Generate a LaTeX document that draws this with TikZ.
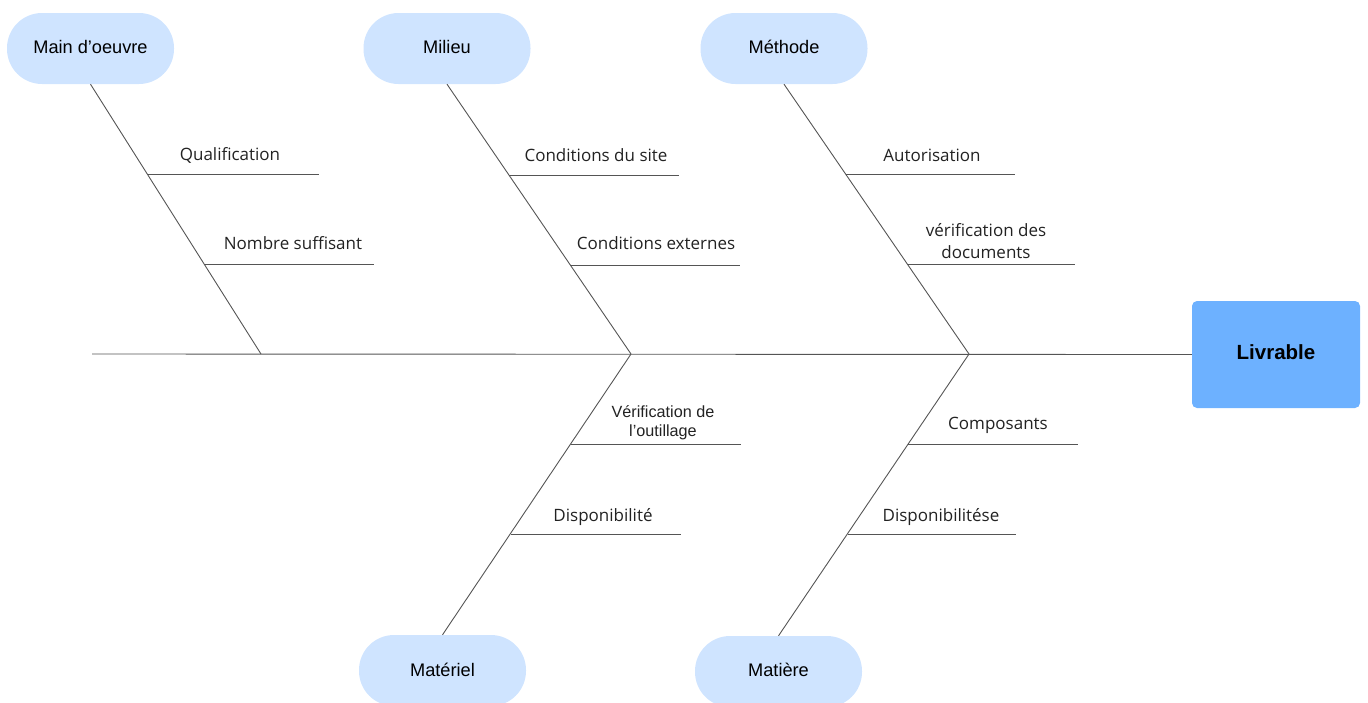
\documentclass[tikz,border=0pt]{standalone}
\usepackage{fontspec}
\setmainfont{Liberation Sans}
\newfontfamily\labfont{Open Sans}
\definecolor{pillc}{HTML}{CFE4FF}
\definecolor{boxc}{HTML}{6DB1FF}
\definecolor{linec}{HTML}{555555}
\definecolor{txtc}{HTML}{222222}
\begin{document}
\begin{tikzpicture}[x=1pt,y=-1pt,
  pill/.style={draw=none,fill=pillc,rounded corners=35pt,minimum width=167pt,minimum height=71pt,inner sep=0pt,font=\fontsize{18.2}{21}\selectfont,text=black},
  bone/.style={draw=linec,line width=0.9pt},
  lab/.style={font=\labfont\fontsize{17}{22}\selectfont,text=txtc,align=center,inner sep=0pt},
  labs/.style={font=\fontsize{16.2}{19}\selectfont,text=txtc,align=center,inner sep=0pt}]
\useasboundingbox (0,0) rectangle (1368,702);
% heads
\node[pill] (mo) at (90.5,48.5) {\raisebox{2.5pt}{Main d\char"27 oeuvre}};
\node[pill] (mi) at (447,48.5) {\raisebox{2.5pt}{Milieu}};
\node[pill] (me) at (784,48.5) {\raisebox{2.5pt}{Méthode}};
\node[pill] (ma) at (442.5,670.5) {\raisebox{1.5pt}{Matériel}};
\node[pill] (mt) at (778.5,671.5) {\raisebox{3.5pt}{Matière}};
\node[draw=none,fill=boxc,rounded corners=5pt,minimum width=168pt,minimum height=107pt,inner sep=0pt,font=\bfseries\fontsize{20.5}{24}\selectfont] (liv) at (1276,354.5) {\raisebox{5pt}{Livrable}};
% spine
\coordinate (s0) at (92,354);
\coordinate (j1) at (261,354);
\coordinate (j2) at (631,354);
\coordinate (j3) at (969,354);
\draw[bone] (s0) -- (liv.west);
\draw[bone] (mo.south) -- (j1);
\draw[bone] (mi.south) -- (j2);
\draw[bone] (me.south) -- (j3);
\draw[bone] (j2) -- (ma.north);
\draw[bone] (j3) -- (mt.north);
% sub-branches
\coordinate (a1) at (147,174); \coordinate (a2) at (319,174);
\coordinate (b1) at (204,264); \coordinate (b2) at (374,264);
\coordinate (c1) at (509,175); \coordinate (c2) at (679,175);
\coordinate (d1) at (570,265); \coordinate (d2) at (740,265);
\coordinate (e1) at (846,174); \coordinate (e2) at (1015,174);
\coordinate (f1) at (907,264); \coordinate (f2) at (1075,264);
\coordinate (g1) at (571,444); \coordinate (g2) at (741,444);
\coordinate (h1) at (511,534); \coordinate (h2) at (681,534);
\coordinate (k1) at (908,444); \coordinate (k2) at (1078,444);
\coordinate (l1) at (848,534); \coordinate (l2) at (1016,534);
\foreach \p in {a,b,c,d,e,f,g,h,k,l} {\draw[bone] (\p1) -- (\p2);}
% labels
\node[lab] (ta) at (230,155.5) {Qualification};
\node[lab] (tb) at (293,243.5) {Nombre suffisant};
\node[lab] (tc) at (596,155.5) {Conditions du site};
\node[lab] (td) at (656,243.5) {Conditions externes};
\node[lab] (te) at (932,155.5) {Autorisation};
\node[lab] (tf) at (986,241.5) {vérification des\\documents};
\node[labs] (tg) at (663,423) {Vérification de\\l\char"27 outillage};
\node[lab] (th) at (603,517) {Disponibilité};
\node[lab] (tk) at (998,425) {Composants};
\node[lab] (tl) at (941,517) {Disponibilitése};
\end{tikzpicture}
\end{document}
